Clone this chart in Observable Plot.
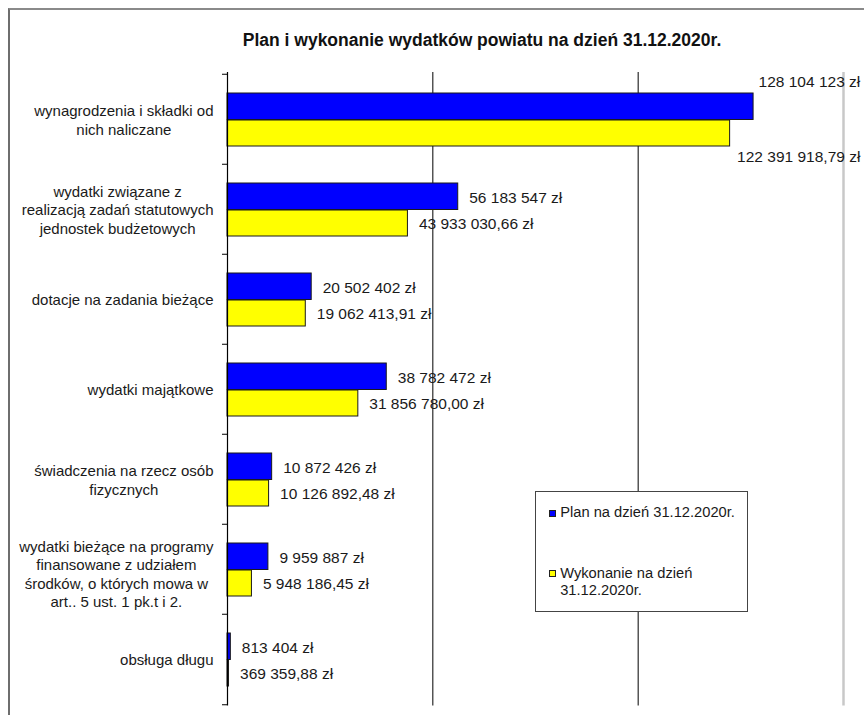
<!DOCTYPE html>
<html><head><meta charset="utf-8">
<script src="https://cdn.jsdelivr.net/npm/d3@7"></script>
<script src="https://cdn.jsdelivr.net/npm/@observablehq/plot@0.6"></script>
<style>
html,body{margin:0;padding:0;background:#fff;overflow:hidden;width:864px;height:715px;}
#frame{position:absolute;left:8px;top:8px;width:1000px;height:1000px;border-left:2px solid #6e6e6e;border-top:2px solid #8a8a8a;box-sizing:border-box;}
#chart{position:absolute;left:0;top:0;}
#title{position:absolute;left:0;top:30px;width:964px;text-align:center;font:bold 17.5px 'Liberation Sans',Arial,sans-serif;color:#111;line-height:20px;}
#legend{position:absolute;left:535px;top:491px;width:213px;height:121px;box-sizing:border-box;border:1.5px solid #444;background:#fff;font:14.7px 'Liberation Sans',Arial,sans-serif;color:#1a1a1a;}
.sw{position:absolute;width:7px;height:7px;box-sizing:border-box;border:1px solid #222;}
.lt{position:absolute;line-height:16.5px;white-space:pre;}
</style></head><body>
<div id="frame"></div>
<div id="chart"></div>
<div id="title"></div>
<div id="legend"></div>
<script>
const chartTitle = "Plan i wykonanie wydatków powiatu na dzień 31.12.2020r.";
const categories = [
  "wynagrodzenia i składki od\nnich naliczane",
  "wydatki związane z\nrealizacją zadań statutowych\njednostek budżetowych",
  "dotacje na zadania bieżące",
  "wydatki majątkowe",
  "świadczenia na rzecz osób\nfizycznych",
  "wydatki bieżące na programy\nfinansowane z udziałem\nśrodków, o których mowa w\nart.. 5 ust. 1 pk.t i 2.",
  "obsługa długu"
];
const planValues = [128104123, 56183547, 20502402, 38782472, 10872426, 9959887, 813404];
const execValues = [122391918.79, 43933030.66, 19062413.91, 31856780.00, 10126892.48, 5948186.45, 369359.88];
const seriesNames = ["Plan na dzień 31.12.2020r.", "Wykonanie na dzień\n31.12.2020r."];
const seriesColors = ["#0000ff", "#ffff00"];
const xTicks = [0, 50000000, 100000000, 150000000];

const FONT = "Liberation Sans";
const FS = 15, FSV = 15.5;
const yTop = 72, yBot = 705.5, xLeft = 227, xRight = 843;
const n = categories.length;
const bh = (yBot - yTop) / n;
const half = bh / 2;
const labelRight = 213;
const pxToVal = (xTicks[xTicks.length - 1] - xTicks[0]) / (xRight - xLeft);

const loc = d3.formatLocale({decimal: ",", thousands: " ", grouping: [3], currency: ["", ""]});
const fPlan = v => loc.format(",.0f")(v) + " zł";
const fExec = v => loc.format(",.2f")(v) + " zł";

const rows = categories.map((c, i) => ({i, cat: c, plan: planValues[i], exec: execValues[i]}));
const big = d => d.plan > 0.8 * xTicks[xTicks.length - 1];

const ctx = document.createElement("canvas").getContext("2d");
ctx.font = `${FS}px '${FONT}'`;

const catMarks = rows.map(d => {
  const lines = d.cat.split("\n");
  const w = d3.max(lines, l => ctx.measureText(l).width);
  return Plot.text([d], {
    y: "i", text: "cat", frameAnchor: "left",
    dx: (labelRight - w / 2) - xLeft, dy: (lines.length > 3 ? 4 : 0),
    textAnchor: "middle", lineAnchor: "middle", lineHeight: 1.24,
    fontSize: FS, fontFamily: FONT, fill: "#1a1a1a"
  });
});

const txt = {fontSize: FSV, fontFamily: FONT, fill: "#1a1a1a", textAnchor: "start", lineAnchor: "middle"};
const tickOpts = {x1: -5 * pxToVal, x2: xTicks[0], stroke: "#000", strokeWidth: 1};

const plot = Plot.plot({
  width: 864, height: 715,
  marginLeft: xLeft, marginRight: 864 - xRight, marginTop: yTop, marginBottom: 715 - yBot,
  x: {domain: [xTicks[0], xTicks[xTicks.length - 1]], axis: null, label: null},
  y: {type: "band", domain: d3.range(n), paddingInner: 0, paddingOuter: 0, axis: null, label: null},
  style: {fontFamily: FONT, background: "transparent", overflow: "visible"},
  marks: [
    Plot.ruleX(xTicks.slice(1, -1), {stroke: "#000", strokeWidth: 1}),
    Plot.ruleX(xTicks.slice(-1), {stroke: "#c8c8c8", strokeWidth: 2.5}),
    Plot.barX(rows, {x: "plan", y: "i", insetTop: 19, insetBottom: bh - 46,
      fill: seriesColors[0], stroke: "#1a1a1a", strokeWidth: 1}),
    Plot.barX(rows, {x: "exec", y: "i", insetTop: 46, insetBottom: bh - 72.5,
      fill: seriesColors[1], stroke: "#1a1a1a", strokeWidth: 1}),
    Plot.ruleX([xTicks[0]], {stroke: "#000", strokeWidth: 1.2}),
    Plot.ruleY(d3.range(n), {...tickOpts, y: d => d, dy: -half}),
    Plot.ruleY([n - 1], {...tickOpts, y: d => d, dy: half}),
    Plot.text(rows.filter(d => !big(d)), {...txt, x: "plan", y: "i", text: d => fPlan(d.plan), dx: 11, dy: 33.4 - half}),
    Plot.text(rows.filter(d => !big(d)), {...txt, x: "exec", y: "i", text: d => fExec(d.exec), dx: 11, dy: 59.4 - half}),
    Plot.text(rows.filter(big), {...txt, x: "plan", y: "i", text: d => fPlan(d.plan), dx: 5, dy: 8 - half}),
    Plot.text(rows.filter(big), {...txt, x: "exec", y: "i", text: d => fExec(d.exec), dx: 7, dy: 83 - half}),
    ...catMarks
  ]
});
document.getElementById("chart").appendChild(plot);
document.getElementById("title").textContent = chartTitle;

const leg = document.getElementById("legend");
const legItems = [{top: 17.5, ttop: 12.25}, {top: 77.5, ttop: 73.25}];
seriesNames.forEach((name, k) => {
  const sw = document.createElement("div");
  sw.className = "sw";
  sw.style.left = "12.8px"; sw.style.top = legItems[k].top + "px";
  sw.style.background = seriesColors[k];
  leg.appendChild(sw);
  const t = document.createElement("div");
  t.className = "lt";
  t.style.left = "24.2px"; t.style.top = legItems[k].ttop + "px";
  t.textContent = name;
  leg.appendChild(t);
});
</script>
</body></html>
